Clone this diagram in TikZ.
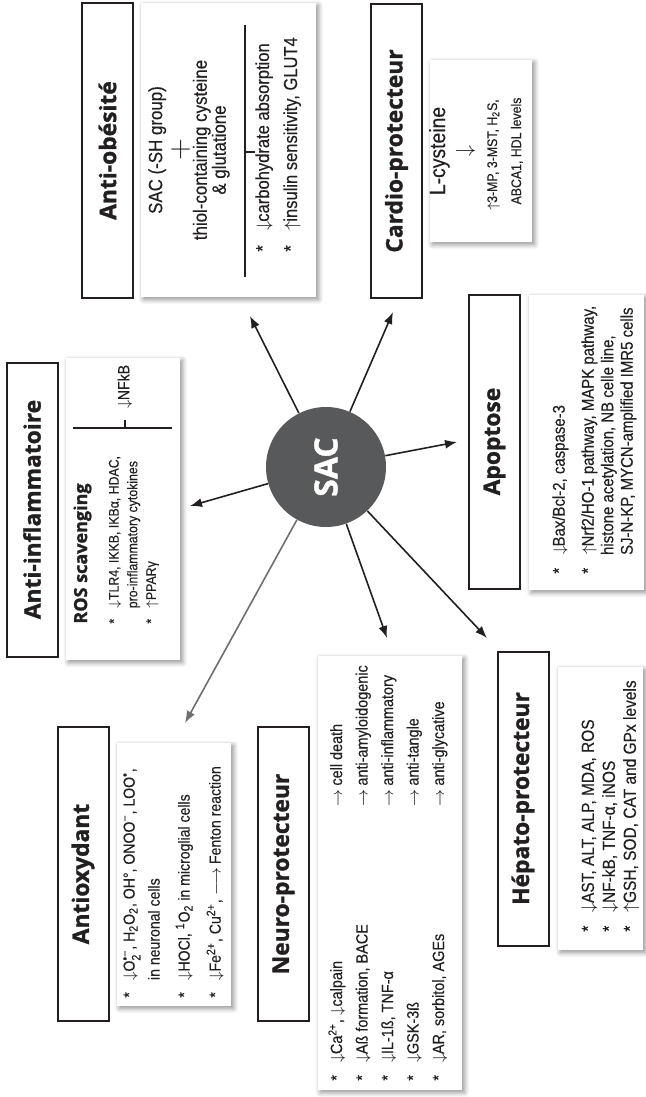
\documentclass[tikz,border=0pt]{standalone}
\usepackage{fontspec}
\usepackage{amsmath}
\setmainfont{Liberation Sans}[FakeStretch=0.88, FakeBold=0.3]
\newfontfamily\titlefont{Open Sans}[BoldFeatures={FakeBold=1.2}]
\usetikzlibrary{arrows.meta, shadows.blur}

\definecolor{sacgrey}{HTML}{58595B}
\definecolor{inkblack}{HTML}{231F20}
\definecolor{arrowgrey}{HTML}{6D6E71}

% list helpers
\newcommand\itm{\makebox[1.1em][l]{*}}
\newcommand\decr{$\downarrow$}
\newcommand\incr{$\uparrow$}
\newcommand\neurorow[2]{\makebox[137pt][l]{\itm#1}$\rightarrow$\ #2}

\tikzset{
  titlebox/.style={draw=inkblack, line width=1pt, fill=white, rotate=90,
    minimum width=147pt, minimum height=25.5pt, inner sep=0pt, text=inkblack,
    font=\titlefont\bfseries\fontsize{11.4}{14}\selectfont},
  infobox/.style={fill=white, rotate=90, inner sep=0pt,
    blur shadow={shadow xshift=1.2pt, shadow yshift=-1.2pt, shadow blur steps=6,
      shadow blur radius=2.5pt, shadow opacity=45}},
  infotext/.style={rotate=90, inner sep=0pt, align=left, anchor=north west, text=inkblack},
  sacarrow/.style={draw=inkblack, line width=0.8pt, -{Latex[length=6pt,width=4.5pt]}},
  bar/.style={draw=inkblack, line width=0.6pt},
}

\begin{document}
\begin{tikzpicture}[x=0.5pt, y=-0.5pt]
\useasboundingbox (0,0) rectangle (645,1097);

% white panels
\node[infobox, minimum width=147pt, minimum height=87.5pt] (obesBox) at (228.5,150) {};
\node[infobox, minimum width=91pt, minimum height=51pt] (cardioBox) at (481,151) {};
\node[infobox, minimum width=151pt, minimum height=57pt] (inflBox) at (123,509) {};
\node[infobox, minimum width=147.5pt, minimum height=57.5pt] (apopBox) at (586.5,442.5) {};
\node[infobox, minimum width=131.5pt, minimum height=57pt] (antioxBox) at (174,874.5) {};
\node[infobox, minimum width=217pt, minimum height=72pt] (neuroBox) at (390,873) {};
\node[infobox, minimum width=141.5pt, minimum height=42.5pt] (hepatoBox) at (600.5,808.5) {};

% titles
\node[titlebox] (obesTitle) at (107.5,150.5) {Anti-obésité};
\node[titlebox] (cardioTitle) at (396.5,151) {Cardio-protecteur};
\node[titlebox] (inflTitle) at (32,509.5) {Anti-inflammatoire};
\node[titlebox] (apopTitle) at (494.5,441.5) {Apoptose};
\node[titlebox] (antioxTitle) at (83,874) {Antioxydant};
\node[titlebox] (neuroTitle) at (283.5,874) {Neuro-protecteur};
\node[titlebox] (hepatoTitle) at (523,798.5) {Hépato-protecteur};

% anti-obesity
\node[rotate=90, inner sep=0pt, align=center, text=inkblack, font=\fontsize{9.6}{9.5}\selectfont] (obesTop) at (189,150)
  {SAC (-SH group)\\[1.5pt]{\fontsize{14}{13}\selectfont$+$}\\thiol-containing cysteine\\\& glutatione};
\coordinate (obesBarA) at (245,25);
\coordinate (obesBarB) at (245,277);
\coordinate (obesTickA) at (245,152);
\coordinate (obesTickB) at (255,152);
\draw[bar] (obesBarA) -- (obesBarB) (obesTickA) -- (obesTickB);
\node[infotext, font=\fontsize{9.4}{10}\selectfont] (obesList) at (255,252)
  {\itm\decr carbohydrate absorption\\[4pt]\itm\incr insulin sensitivity, GLUT4};

% cardio
\node[rotate=90, inner sep=0pt, align=center, text=inkblack] (cardioText) at (476,151)
  {{\fontsize{11}{12}\selectfont L-cysteine}\\[1pt]
   {\fontsize{11}{10}\selectfont$\downarrow$}\\[1pt]
   {\fontsize{7}{7.5}\selectfont\llap{$\uparrow$}3-MP, 3-MST, H\textsubscript{2}S,}\\
   {\fontsize{7}{7.5}\selectfont ABCA1, HDL levels}};

% anti-inflammatory
\node[infotext, font=\fontsize{7}{9.3}\selectfont] (inflList) at (73,624)
  {{\titlefont\bfseries\fontsize{9}{9}\selectfont ROS scavenging}\\[6.5pt]
   \itm\decr TLR4, IKKB, IKBα, HDAC,\\
   \hspace*{1.1em}pro-inflammatory cytokines\\
   \itm\incr PPARγ};
\coordinate (inflBarA) at (73,428);
\coordinate (inflBarB) at (172,428);
\coordinate (inflTickA) at (125,428);
\coordinate (inflTickB) at (125,420);
\draw[bar] (inflBarA) -- (inflBarB) (inflTickA) -- (inflTickB);
\node[rotate=90, inner sep=0pt, anchor=west, text=inkblack, font=\fontsize{8}{9}\selectfont] (nfkb) at (125,409) {\decr NFkB};

% apoptosis
\node[infotext, font=\fontsize{8.5}{9.75}\selectfont] (apopList) at (552,574)
  {\itm\decr Bax/Bcl-2, caspase-3\\[4.75pt]
   \itm\incr Nrf2/HO-1 pathway, MAPK pathway,\\
   \hspace*{1.1em}histone acetylation, NB celle line,\\
   \hspace*{1.1em}SJ-N-KP, MYCN-amplified IMR5 cells};

% antioxidant
\node[infotext, font=\fontsize{8}{12.5}\selectfont] (antioxList) at (123,998)
  {\itm\decr O$_{\text{2}}^{\text{•−}}$, H\textsubscript{2}O\textsubscript{2}, OH°, ONOO\textsuperscript{−}, LOO\textsuperscript{•},\\
   \hspace*{1.1em}in neuronal cells\\[2.5pt]
   \itm\decr HOCl, \textsuperscript{1}O\textsubscript{2} in microglial cells\\[3pt]
   \itm\decr Fe\textsuperscript{2+}, Cu\textsuperscript{2+}, $\longrightarrow$ Fenton reaction};

% neuroprotection
\node[infotext, font=\fontsize{8.2}{12.75}\selectfont] (neuroList) at (328,1081)
  {\neurorow{\decr Ca\textsuperscript{2+}, \decr calpain}{cell death}\\
   \neurorow{\decr Aß formation, BACE}{anti-amyloidogenic}\\
   \neurorow{\decr IL-1ß, TNF-α}{anti-inflammatory}\\
   \neurorow{\decr GSK-3ß}{anti-tangle}\\
   \neurorow{\decr AR, sorbitol, AGEs}{anti-glycative}};

% hepatoprotection
\node[infotext, font=\fontsize{8.8}{10.5}\selectfont] (hepatoList) at (581,932)
  {\itm\decr AST, ALT, ALP, MDA, ROS\\
   \itm\decr NF-kB, TNF-α, iNOS\\
   \itm\incr GSH, SOD, CAT and GPx levels};

% centre
\node[circle, fill=sacgrey, minimum size=60pt, inner sep=0pt, text=white, rotate=90,
  font=\titlefont\bfseries\fontsize{16}{18}\selectfont] (sac) at (326,467) {SAC};

% arrow ends
\coordinate (obesTip) at (250,316);
\coordinate (cardioTip) at (393,312);
\coordinate (inflTip) at (190,506);
\coordinate (antioxTip) at (185,723);
\coordinate (neuroTip) at (387,638);
\coordinate (hepatoTip) at (487,638);
\coordinate (apopTip) at (457,442);

\foreach \t in {obesTip, cardioTip, inflTip, neuroTip, hepatoTip, apopTip}
  \draw[sacarrow] (sac) -- (\t);
\draw[sacarrow, draw=arrowgrey] (sac) -- (antioxTip);

\end{tikzpicture}
\end{document}
